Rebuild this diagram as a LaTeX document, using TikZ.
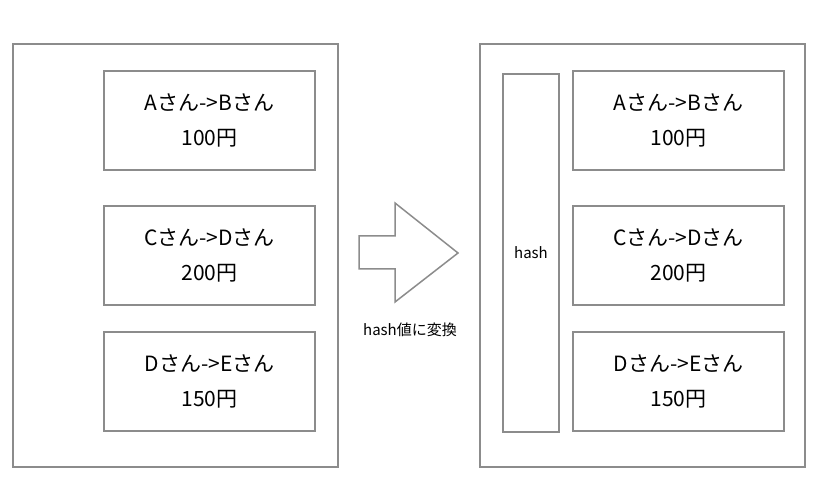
\documentclass[tikz,border=0pt]{standalone}
\usepackage{fontspec}
\setmainfont{Noto Sans CJK JP}
\usetikzlibrary{positioning}

\begin{document}
\begin{tikzpicture}[x=1pt,y=-1pt,
    frame/.style={draw=gray!90,line width=1.5pt,minimum width=325pt,minimum height=423pt},
    tx/.style={draw=gray!90,line width=1.5pt,minimum width=211pt,minimum height=99pt,align=center,font=\fontsize{21}{35}\selectfont},
    hashbox/.style={draw=gray!90,line width=1.5pt,minimum width=56pt,minimum height=358pt,font=\fontsize{15}{16}\selectfont}]
    \useasboundingbox (0,0) rectangle (824,486);
    % before
    \node[frame] (left) at (175.5,255.5) {};
    \node[tx] (a1) at (209.5,120.5) {Aさん->Bさん\\100円};
    \node[tx] (b1) at (209.5,255.5) {Cさん->Dさん\\200円};
    \node[tx] (c1) at (209.5,381.5) {Dさん->Eさん\\150円};
    % conversion arrow
    \draw[gray!90,line width=1.5pt] (359,236) -- (395,236) -- (395,203) -- (458,253)
        -- (395,302) -- (395,269) -- (359,269) -- cycle;
    \node[font=\fontsize{15}{16}\selectfont] (conv) at (410,330) {hash値に変換};
    % after
    \node[frame] (right) at (642.5,255.5) {};
    \node[hashbox] (hash) at (531,253) {hash};
    \node[tx] (a2) at (678.5,120.5) {Aさん->Bさん\\100円};
    \node[tx] (b2) at (678.5,255.5) {Cさん->Dさん\\200円};
    \node[tx] (c2) at (678.5,381.5) {Dさん->Eさん\\150円};
\end{tikzpicture}
\end{document}
